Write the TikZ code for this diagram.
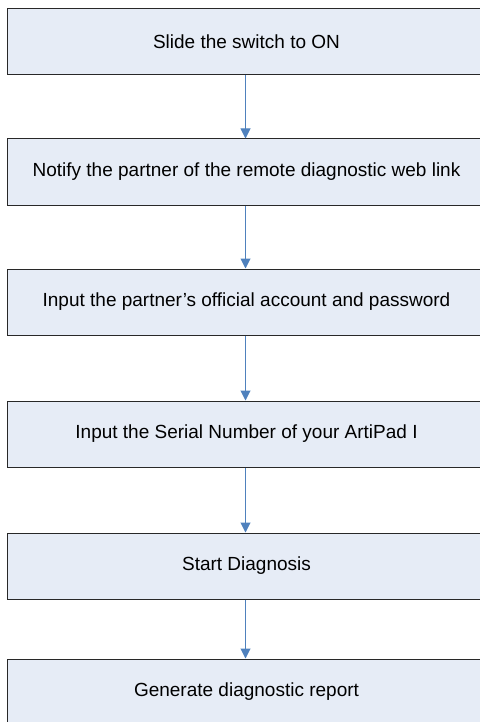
\documentclass[tikz,border=0pt]{standalone}
\usepackage{fontspec}
\setmainfont{Liberation Sans}
\usepackage{tikz}
\usetikzlibrary{positioning,arrows.meta}
\definecolor{boxfill}{RGB}{230,236,246}
\definecolor{boxline}{RGB}{40,40,40}
\definecolor{flowblue}{RGB}{79,129,189}
\tikzset{
  stepbox/.style={draw=boxline,fill=boxfill,line width=1pt,
    minimum width=478pt,minimum height=66pt,inner sep=0pt,
    font=\fontsize{19}{22}\selectfont},
  flowarrow/.style={draw=flowblue,line width=1pt,
    -{Triangle[length=10pt,width=10pt]}},
}

\begin{document}
\begin{tikzpicture}[x=1pt,y=1pt]
  \useasboundingbox (0,0) rectangle (479,-722);
  \node[stepbox] (s1) at (246.5,-42) {Slide the switch to ON};
  \node[stepbox] (s2) at (246.5,-172) {Notify the partner of the remote diagnostic web link};
  \node[stepbox] (s3) at (246.5,-302) {Input the partner’s official account and password};
  \node[stepbox] (s4) at (246.5,-434) {Input the Serial Number of your ArtiPad I};
  \node[stepbox] (s5) at (246.5,-566) {Start Diagnosis};
  \node[stepbox] (s6) at (246.5,-692) {Generate diagnostic report};
  \foreach \a/\b in {s1/s2,s2/s3,s3/s4,s4/s5,s5/s6}
    \draw[flowarrow] ([xshift=-1pt]\a.south) -- ([xshift=-1pt]\b.north);
\end{tikzpicture}
\end{document}
